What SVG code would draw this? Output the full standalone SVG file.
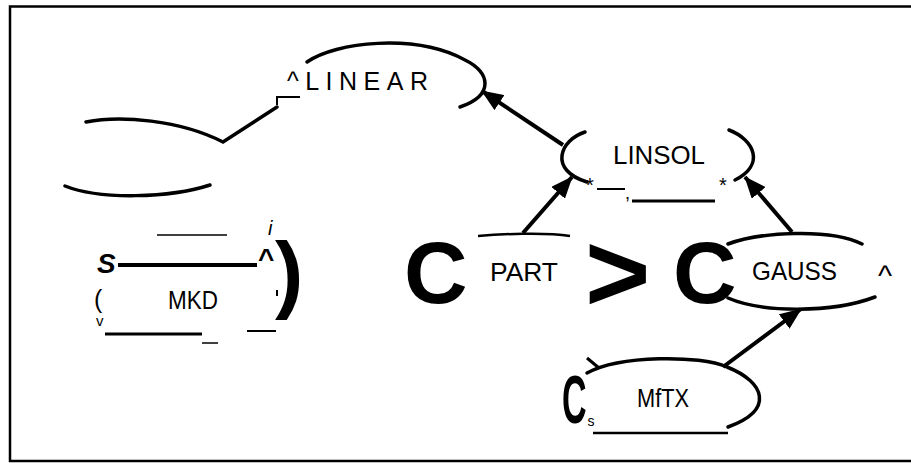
<svg xmlns="http://www.w3.org/2000/svg" width="911" height="463" viewBox="0 0 911 463">
<style>
.t{font-family:"Liberation Sans",Arial,sans-serif;fill:#000}
.b{font-weight:bold}
.arc{fill:none;stroke:#000;stroke-width:3.5;stroke-linecap:round}
.ln{stroke:#000;fill:none}
.edge{stroke:#000;stroke-width:4;fill:none}
</style>
<defs>
<marker id="ah" viewBox="0 0 22 18" refX="21" refY="9" markerWidth="22" markerHeight="18" markerUnits="userSpaceOnUse" orient="auto">
<path d="M0,0 L22,9 L0,18 Z" fill="#000"/>
</marker>
</defs>
<rect width="911" height="463" fill="#fff"/>
<path class="ln" stroke-width="2.5" d="M911,6.5 L10,6.5 L10,461 L911,461"/>

<g id="n-linear">
<path class="arc" d="M307,62 C335,42 415,33 465,60 C490,72 495,95 460,107"/>
<text class="t" x="287" y="90" font-size="25" textLength="141" lengthAdjust="spacing">^LINEAR</text>
</g>

<g id="n-left">
<path class="arc" d="M86,122 C120,115 180,120 223,142 L277,107"/>
<path class="ln" stroke-width="2" d="M277,105 L277,97 L300,97"/>
<path class="arc" d="M65,186 C100,200 170,198 210,185"/>
</g>

<g id="n-linsol">
<path class="arc" d="M585,132 C560,140 548,170 587,182"/>
<path class="arc" d="M729,130 C755,140 765,165 735,180"/>
<text class="t" x="613" y="164" font-size="26" textLength="92" lengthAdjust="spacingAndGlyphs">LINSOL</text>
<text class="t" x="586" y="192" font-size="20">*</text>
<path class="ln" stroke-width="2" d="M597,189 L625,189"/>
<text class="t" x="625" y="199" font-size="18">,</text>
<path class="ln" stroke-width="3" d="M632,201 L715,201"/>
<text class="t" x="719" y="192" font-size="20">*</text>
</g>

<g id="n-mkd">
<path class="ln" stroke-width="1.5" d="M157,235 L227,235"/>
<text class="t b" x="97" y="273" font-size="28" font-style="italic">S</text>
<path class="ln" stroke-width="4" d="M118,265 L257,265"/>
<text class="t b" x="258" y="268" font-size="28">^</text>
<text class="t" x="268" y="235" font-size="20" font-style="italic">i</text>
<text class="t b" x="275" y="302" font-size="85">)</text>
<text class="t" x="94" y="308" font-size="25">(</text>
<text class="t" x="96" y="326" font-size="15">v</text>
<text class="t" x="168" y="309" font-size="25" textLength="50" lengthAdjust="spacingAndGlyphs">MKD</text>
<path class="ln" stroke-width="2" d="M277,290 L277,296"/>
<path class="ln" stroke-width="3" d="M105,334 L202,334"/>
<path class="ln" stroke-width="1.5" d="M202,343 L218,343"/>
<path class="ln" stroke-width="2" d="M247,331 L276,331"/>
</g>

<g id="n-part">
<text class="t b" x="404" y="303" font-size="88">C</text>
<path class="ln" stroke-width="2.5" d="M478,236 C500,234 545,232 570,236"/>
<text class="t" x="490" y="281" font-size="26" textLength="68" lengthAdjust="spacingAndGlyphs">PART</text>
<text class="t b" x="585" y="311" font-size="112">&gt;</text>
</g>

<g id="n-gauss">
<text class="t b" x="673" y="303" font-size="88">C</text>
<path class="arc" d="M728,244 C760,232 830,228 862,244"/>
<path class="arc" d="M728,298 C760,312 830,314 875,297"/>
<text class="t" x="752" y="280" font-size="25" textLength="85" lengthAdjust="spacingAndGlyphs">GAUSS</text>
<text class="t" x="878" y="286" font-size="30">^</text>
</g>

<g id="n-mftx">
<path class="arc" d="M587,373 C620,355 700,355 727,367 C765,382 775,410 728,427"/>
<path class="ln" stroke-width="3" d="M587,358 L599,368"/>
<text class="t b" transform="translate(562,423) scale(0.5,1)" x="0" y="0" font-size="68">C</text>
<text class="t" x="587.5" y="426" font-size="14">s</text>
<text class="t" x="637" y="407" font-size="26" textLength="52" lengthAdjust="spacingAndGlyphs">MfTX</text>
<path class="ln" stroke-width="2.5" d="M593,433 L728,433"/>
</g>

<g id="connectors">
<path class="edge" d="M563,145 L482,91" marker-end="url(#ah)"/>
<path class="edge" d="M523,233 L572,177" marker-end="url(#ah)"/>
<path class="edge" d="M792,232 L745,177" marker-end="url(#ah)"/>
<path class="edge" d="M723,367 L801,309" marker-end="url(#ah)"/>
</g>
</svg>
